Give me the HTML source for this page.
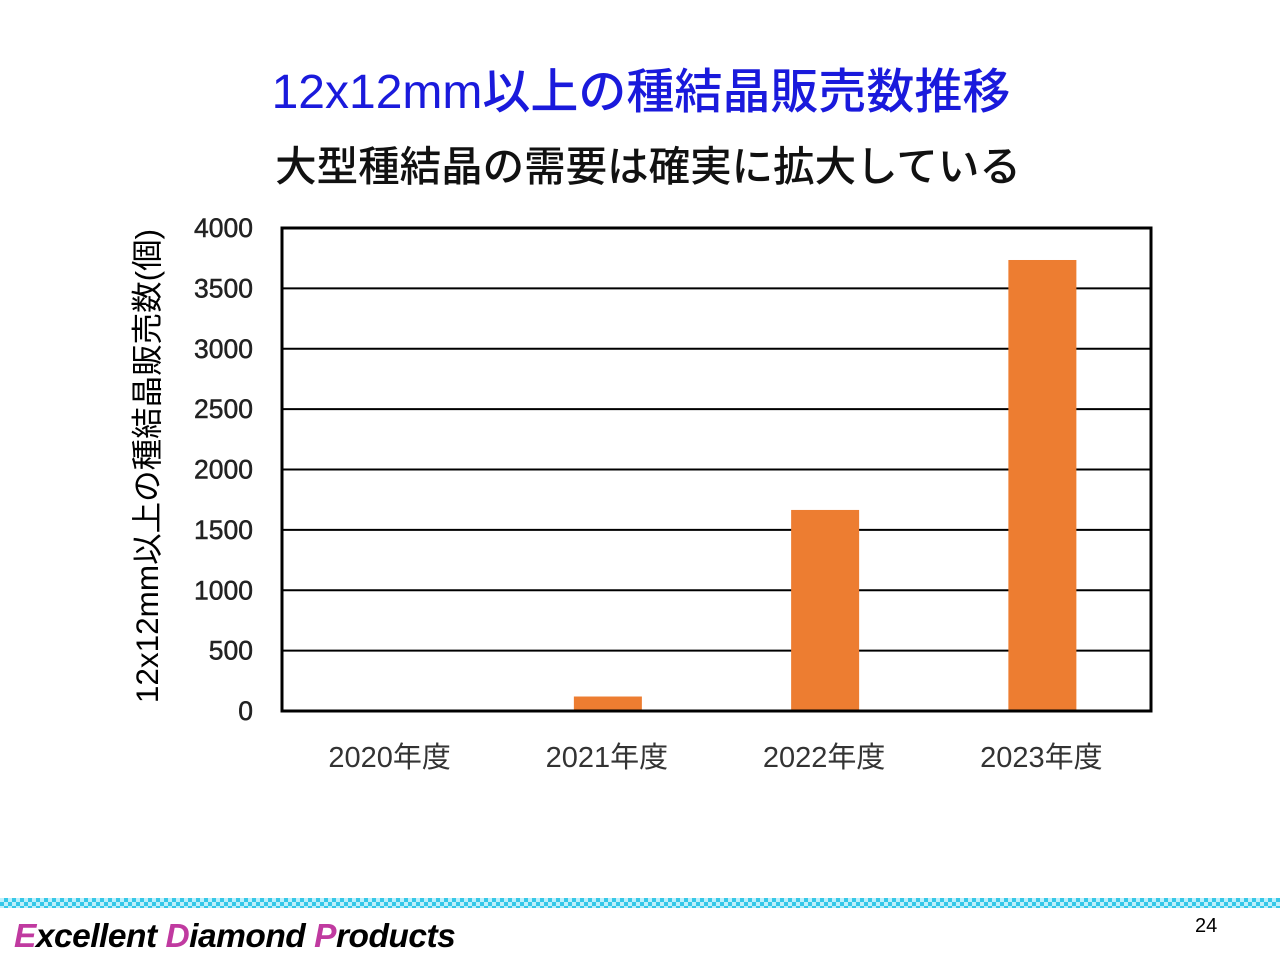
<!DOCTYPE html>
<html><head><meta charset="utf-8"><style>
body{margin:0;width:1280px;height:960px;background:#fff;position:relative;overflow:hidden;font-family:"Liberation Sans","Noto Sans CJK JP",sans-serif}
.t{position:absolute;left:0;width:1280px;text-align:center;white-space:nowrap}
</style></head><body>
<div class="t" style="top:52px;left:1px;font-size:48px;color:#1a1adc;font-weight:500">12x12mm以上の種結晶販売数推移</div>
<div class="t" style="top:133px;font-size:41.5px;color:#111;left:8px;font-weight:500">大型種結晶の需要は確実に拡大している</div>
<svg id="c" width="1280" height="960" style="position:absolute;left:0;top:0"></svg>
<div style="position:absolute;left:0;top:898px;width:1280px;height:10px;background:repeating-conic-gradient(#36c8e8 0 25%,#bff0fb 0 50%) 0 0/8px 8px"></div>
<div style="position:absolute;left:14px;top:918px;font-size:33.5px;font-weight:bold;font-style:italic;color:#000;letter-spacing:-0.5px"><span style="color:#c03aa0">E</span>xcellent <span style="color:#c03aa0">D</span>iamond <span style="color:#c03aa0">P</span>roducts</div>
<div style="position:absolute;left:1195px;top:915px;font-size:20px">24</div>
<script>
const categories=["2020年度","2021年度","2022年度","2023年度"];
const values=[0,120,1665,3735];
const ticks=[0,500,1000,1500,2000,2500,3000,3500,4000];
const NS="http://www.w3.org/2000/svg",s=document.getElementById('c');
const L=282,R=1151,T=228,B=711,max=4000;
const y=v=>B-(B-T)*v/max, bw=(R-L)/categories.length, x=i=>L+bw*(i+0.5);
function mk(t,a){const e=document.createElementNS(NS,t);for(const k in a)e.setAttribute(k,a[k]);s.appendChild(e);return e;}
ticks.forEach(v=>{
 if(v>0&&v<max){const g=mk('line',{x1:L,x2:R,y1:y(v),y2:y(v),stroke:'#000','stroke-width':2});
 
 }
 const t=mk('text',{x:253,y:y(v)+9,'text-anchor':'end','font-size':26.5,fill:'#222',stroke:'#222','stroke-width':0.5});t.textContent=v;
 
 
});
values.forEach((v,i)=>{
 const r=mk('rect',{x:x(i)-34,y:y(v),width:68,height:B-y(v),fill:'#ed7d31'});
 
 
 const t=mk('text',{x:x(i)-1,y:767,'text-anchor':'middle','font-size':29,fill:'#333'});t.textContent=categories[i];
 
 
});
const f=mk('rect',{x:L,y:T,width:R-L,height:B-T,fill:'none',stroke:'#000','stroke-width':3});


const yt=mk('text',{x:0,y:0,transform:'translate(158,466) rotate(-90)','text-anchor':'middle','font-size':31.5,fill:'#000'});
yt.textContent='12x12mm以上の種結晶販売数(個)';


</script>
</body></html>
